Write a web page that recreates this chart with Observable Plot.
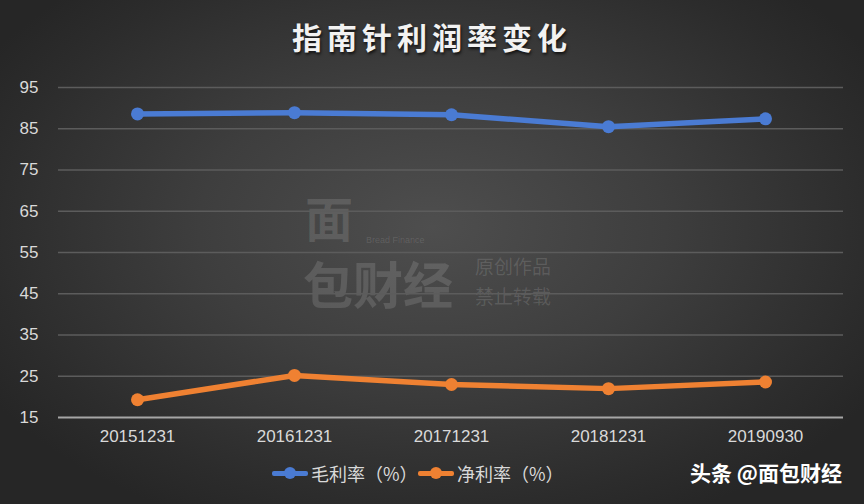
<!DOCTYPE html>
<html><head><meta charset="utf-8">
<script src="https://cdn.jsdelivr.net/npm/d3@7"></script>
<script src="https://cdn.jsdelivr.net/npm/@observablehq/plot@0.6"></script>
<style>
html,body{margin:0;padding:0;background:#2b2b2b;}
#wrap{position:relative;width:864px;height:504px;overflow:hidden;
 background:radial-gradient(ellipse 60% 65% at 50% 45%, #4e4e4e 0%, #3e3e3e 45%, #2c2c2c 85%, #262626 100%);
 font-family:"Noto Sans CJK SC","Noto Sans",sans-serif;}
#title{position:absolute;left:0;top:14px;width:864px;text-align:center;color:#f2f2f2;font-size:30px;font-weight:bold;letter-spacing:5px;text-shadow:1px 2px 3px rgba(0,0,0,0.7);}
#chart{position:absolute;left:0;top:70px;}
.leg{position:absolute;top:460px;color:#d9d9d9;font-size:18px;display:flex;align-items:center;font-family:"Noto Sans CJK SC",sans-serif;}
.sw{position:relative;width:36px;height:20px;margin-right:3px;}
.sw .l{position:absolute;left:0;top:8px;width:36px;height:5px;border-radius:2px;}
.sw .d{position:absolute;left:12px;top:4px;width:12px;height:12px;border-radius:6px;}
#wm{position:absolute;left:690px;top:457px;color:#fff;font-size:21px;font-weight:bold;}
.wmk{position:absolute;color:rgba(255,255,255,0.13);line-height:1;white-space:nowrap;}
</style></head>
<body><div id="wrap">
<div id="title">指南针利润率变化</div>
<div class="wmk" style="left:305px;top:192px;font-size:48px;font-weight:bold;">面</div>
<div class="wmk" style="left:303px;top:257px;font-size:50px;font-weight:bold;">包财经</div>
<div class="wmk" style="left:366px;top:236px;font-size:9px;font-family:Arial,sans-serif;">Bread Finance</div>
<div class="wmk" style="left:475px;top:256px;font-size:19px;">原创作品</div>
<div class="wmk" style="left:475px;top:286px;font-size:19px;">禁止转载</div>
<div id="chart"></div>
<div class="leg" style="left:272px;"><div class="sw"><div class="l" style="background:#4a7bd3"></div><div class="d" style="background:#4a7bd3"></div></div>毛利率（%）</div>
<div class="leg" style="left:418px;"><div class="sw"><div class="l" style="background:#ef8132"></div><div class="d" style="background:#ef8132"></div></div>净利率（%）</div>
<div id="wm">头条 @面包财经</div>
</div>
<script>
const periods = ["20151231","20161231","20171231","20181231","20190930"];
const grossMargin = [88.6, 88.9, 88.4, 85.5, 87.4];
const netMargin = [19.3, 25.2, 23.0, 22.0, 23.6];
const yTicks = [15,25,35,45,55,65,75,85,95];
const seriesNames = ["毛利率（%）","净利率（%）"];
const colors = ["#4a7bd3","#ef8132"];

const data = [];
periods.forEach((p,i)=>{
  data.push({period:p, value:grossMargin[i], series:seriesNames[0]});
  data.push({period:p, value:netMargin[i], series:seriesNames[1]});
});

const chart = Plot.plot({
  width: 864, height: 390,
  marginLeft: 58, marginRight: 21, marginTop: 17, marginBottom: 43,
  style: {background:"transparent", color:"#d9d9d9", fontSize:"17px", fontFamily:"Liberation Sans, Arial, sans-serif"},
  x: {type:"point", domain: periods, padding: 0.5, label:null},
  y: {domain:[15,95], ticks: yTicks, label:null},
  color: {domain: seriesNames, range: colors},
  marks: [
    Plot.ruleY(yTicks.filter(t=>t>15), {stroke:"#5c5c5c", strokeWidth:1.3}),
    Plot.ruleY([15], {stroke:"#a6a6a6", strokeWidth:2}),
    Plot.axisY({ticks: yTicks, tickSize:0, tickPadding:20, fill:"#d9d9d9", fontSize:17, label:null}),
    Plot.axisX({tickSize:0, tickPadding:12, fill:"#d9d9d9", fontSize:17, label:null}),
    Plot.line(data, {x:"period", y:"value", z:"series", stroke:"series", strokeWidth:5.5, strokeLinejoin:"round", style:{filter:"drop-shadow(1px 2px 2px rgba(0,0,0,0.5))"}}),
    Plot.dot(data, {x:"period", y:"value", fill:"series", r:6.5, stroke:null})
  ]
});
document.getElementById("chart").appendChild(chart);
</script>
</body></html>
